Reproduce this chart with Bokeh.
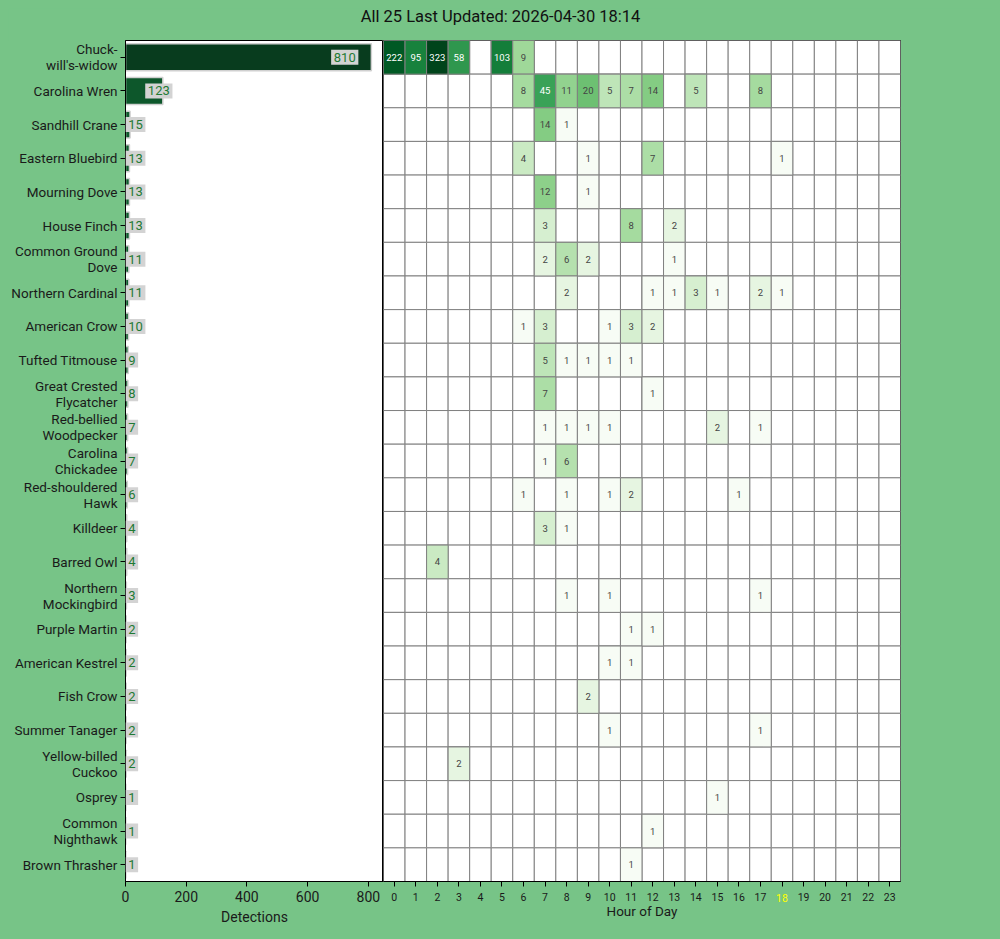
import numpy as np
from bokeh.plotting import figure
from bokeh.models import (ColumnDataSource, Range1d, FactorRange, LogColorMapper,
                          LinearColorMapper, FixedTicker, LabelSet, LinearAxis)
from bokeh.layouts import column, row
from bokeh.core.properties import value
from bokeh.transform import transform
from bokeh.embed import file_html
from bokeh.resources import INLINE

# ---------------- data ----------------
title_text = "All 25 Last Updated: 2026-04-30 18:14"

species = ["Chuck-will's-widow", "Carolina Wren", "Sandhill Crane", "Eastern Bluebird",
           "Mourning Dove", "House Finch", "Common Ground Dove", "Northern Cardinal",
           "American Crow", "Tufted Titmouse", "Great Crested Flycatcher",
           "Red-bellied Woodpecker", "Carolina Chickadee", "Red-shouldered Hawk",
           "Killdeer", "Barred Owl", "Northern Mockingbird", "Purple Martin",
           "American Kestrel", "Fish Crow", "Summer Tanager", "Yellow-billed Cuckoo",
           "Osprey", "Common Nighthawk", "Brown Thrasher"]

species_labels = ["Chuck-\nwill's-widow", "Carolina Wren", "Sandhill Crane", "Eastern Bluebird",
                  "Mourning Dove", "House Finch", "Common Ground\nDove", "Northern Cardinal",
                  "American Crow", "Tufted Titmouse", "Great Crested\nFlycatcher",
                  "Red-bellied\nWoodpecker", "Carolina\nChickadee", "Red-shouldered\nHawk",
                  "Killdeer", "Barred Owl", "Northern\nMockingbird", "Purple Martin",
                  "American Kestrel", "Fish Crow", "Summer Tanager", "Yellow-billed\nCuckoo",
                  "Osprey", "Common\nNighthawk", "Brown Thrasher"]

detections = [810, 123, 15, 13, 13, 13, 11, 11, 10, 9, 8, 7, 7, 6, 4, 4, 3, 2, 2, 2, 2, 2, 1, 1, 1]

hours = list(range(24))
current_hour = 18

#                 0    1    2   3  4    5  6   7   8   9 10 11  12 13 14 15 16 17 18 19 20 21 22 23
hourly_counts = [
    [222, 95, 323, 58, 0, 103, 9,  0,  0,  0, 0, 0,  0, 0, 0, 0, 0, 0, 0, 0, 0, 0, 0, 0],
    [0,    0,   0,  0, 0,   0, 8, 45, 11, 20, 5, 7, 14, 0, 5, 0, 0, 8, 0, 0, 0, 0, 0, 0],
    [0,    0,   0,  0, 0,   0, 0, 14,  1,  0, 0, 0,  0, 0, 0, 0, 0, 0, 0, 0, 0, 0, 0, 0],
    [0,    0,   0,  0, 0,   0, 4,  0,  0,  1, 0, 0,  7, 0, 0, 0, 0, 0, 1, 0, 0, 0, 0, 0],
    [0,    0,   0,  0, 0,   0, 0, 12,  0,  1, 0, 0,  0, 0, 0, 0, 0, 0, 0, 0, 0, 0, 0, 0],
    [0,    0,   0,  0, 0,   0, 0,  3,  0,  0, 0, 8,  0, 2, 0, 0, 0, 0, 0, 0, 0, 0, 0, 0],
    [0,    0,   0,  0, 0,   0, 0,  2,  6,  2, 0, 0,  0, 1, 0, 0, 0, 0, 0, 0, 0, 0, 0, 0],
    [0,    0,   0,  0, 0,   0, 0,  0,  2,  0, 0, 0,  1, 1, 3, 1, 0, 2, 1, 0, 0, 0, 0, 0],
    [0,    0,   0,  0, 0,   0, 1,  3,  0,  0, 1, 3,  2, 0, 0, 0, 0, 0, 0, 0, 0, 0, 0, 0],
    [0,    0,   0,  0, 0,   0, 0,  5,  1,  1, 1, 1,  0, 0, 0, 0, 0, 0, 0, 0, 0, 0, 0, 0],
    [0,    0,   0,  0, 0,   0, 0,  7,  0,  0, 0, 0,  1, 0, 0, 0, 0, 0, 0, 0, 0, 0, 0, 0],
    [0,    0,   0,  0, 0,   0, 0,  1,  1,  1, 1, 0,  0, 0, 0, 2, 0, 1, 0, 0, 0, 0, 0, 0],
    [0,    0,   0,  0, 0,   0, 0,  1,  6,  0, 0, 0,  0, 0, 0, 0, 0, 0, 0, 0, 0, 0, 0, 0],
    [0,    0,   0,  0, 0,   0, 1,  0,  1,  0, 1, 2,  0, 0, 0, 0, 1, 0, 0, 0, 0, 0, 0, 0],
    [0,    0,   0,  0, 0,   0, 0,  3,  1,  0, 0, 0,  0, 0, 0, 0, 0, 0, 0, 0, 0, 0, 0, 0],
    [0,    0,   4,  0, 0,   0, 0,  0,  0,  0, 0, 0,  0, 0, 0, 0, 0, 0, 0, 0, 0, 0, 0, 0],
    [0,    0,   0,  0, 0,   0, 0,  0,  1,  0, 1, 0,  0, 0, 0, 0, 0, 1, 0, 0, 0, 0, 0, 0],
    [0,    0,   0,  0, 0,   0, 0,  0,  0,  0, 0, 1,  1, 0, 0, 0, 0, 0, 0, 0, 0, 0, 0, 0],
    [0,    0,   0,  0, 0,   0, 0,  0,  0,  0, 1, 1,  0, 0, 0, 0, 0, 0, 0, 0, 0, 0, 0, 0],
    [0,    0,   0,  0, 0,   0, 0,  0,  0,  2, 0, 0,  0, 0, 0, 0, 0, 0, 0, 0, 0, 0, 0, 0],
    [0,    0,   0,  0, 0,   0, 0,  0,  0,  0, 1, 0,  0, 0, 0, 0, 0, 1, 0, 0, 0, 0, 0, 0],
    [0,    0,   0,  2, 0,   0, 0,  0,  0,  0, 0, 0,  0, 0, 0, 0, 0, 0, 0, 0, 0, 0, 0, 0],
    [0,    0,   0,  0, 0,   0, 0,  0,  0,  0, 0, 0,  0, 0, 0, 1, 0, 0, 0, 0, 0, 0, 0, 0],
    [0,    0,   0,  0, 0,   0, 0,  0,  0,  0, 0, 0,  1, 0, 0, 0, 0, 0, 0, 0, 0, 0, 0, 0],
    [0,    0,   0,  0, 0,   0, 0,  0,  0,  0, 0, 1,  0, 0, 0, 0, 0, 0, 0, 0, 0, 0, 0, 0],
]

# ---------------- styles ----------------
BG = "#77c487"
FONT = "Roboto"
greens9 = ['#f7fcf5', '#e5f5e0', '#c7e9c0', '#a1d99b', '#74c476',
           '#41ab5d', '#238b45', '#006d2c', '#00441b']


def interp_palette(stops, n):
    rgb = np.array([[int(c[i:i + 2], 16) for i in (1, 3, 5)] for c in stops], dtype=float)
    pos = np.linspace(0, 1, len(stops))
    t = np.linspace(0, 1, n)
    out = []
    for tt in t:
        r, g, b = (np.interp(tt, pos, rgb[:, k]) for k in range(3))
        out.append("#%02x%02x%02x" % (int(round(r)), int(round(g)), int(round(b))))
    return out


heat_palette = interp_palette(greens9, 256)
bar_palette = interp_palette(["#0e5c2d", "#083c1e"], 64)

n_rows = len(species)

# ---------------- title ----------------
pt = figure(width=984, height=32, x_range=Range1d(0, 1), y_range=Range1d(0, 1),
            output_backend="svg", toolbar_location=None, min_border=0,
            x_axis_location=None, y_axis_location=None)
pt.grid.visible = False
pt.outline_line_color = None
pt.background_fill_color = BG
pt.border_fill_color = BG
pt.text(x=[0.5], y=[0.76], text=[title_text], text_align="center", text_baseline="middle",
        text_font=value(FONT), text_font_size="16.5px", text_color="#111111")

# ---------------- left: bar chart ----------------
bar_src = ColumnDataSource(dict(label=species_labels, count=detections))
bar_mapper = LinearColorMapper(palette=bar_palette, low=0, high=max(detections))

p1 = figure(width=375, height=891, y_range=FactorRange(factors=species_labels[::-1]),
            x_range=Range1d(0, 850), output_backend="svg", toolbar_location=None,
            min_border_left=117, min_border_right=0, min_border_top=0, min_border_bottom=50)
p1.hbar(y='label', left=0, right='count', height=0.8, source=bar_src,
        fill_color=transform('count', bar_mapper), line_color="#d0d0d0", line_width=1.5)
p1.grid.visible = False
p1.background_fill_color = "white"
p1.border_fill_color = BG
p1.outline_line_color = "black"
p1.xaxis.axis_label = "Detections"
for ax in (p1.xaxis[0], p1.yaxis[0]):
    ax.axis_line_color = "black"
    ax.major_tick_line_color = "black"
    ax.major_tick_out = 5
    ax.major_tick_in = 0
    ax.minor_tick_line_color = None
    ax.major_label_text_font = FONT
    ax.major_label_text_font_size = "14px"
    ax.major_label_text_color = "#1a1a1a"
    ax.axis_label_text_font = FONT
    ax.axis_label_text_font_size = "14px"
    ax.axis_label_text_font_style = "normal"
    ax.axis_label_text_color = "#1a1a1a"
p1.yaxis.major_label_text_font_size = "13.5px"
try:
    p1.yaxis[0].major_label_text_line_height = 1.0
except Exception:
    pass
p1.yaxis.major_label_standoff = 3
p1.xaxis.major_label_standoff = 4
p1.xaxis.axis_label_standoff = 4
p1.xaxis.ticker = FixedTicker(ticks=[0, 200, 400, 600, 800])

PAD = "\u2009"  # thin space, not collapsed in SVG


def label_src(idx, at_zero=False):
    return ColumnDataSource(dict(
        label=[species_labels[i] for i in idx],
        x=[0 if at_zero else detections[i] for i in idx],
        text=[PAD + str(detections[i]) + PAD for i in idx]))


big = [i for i, v in enumerate(detections) if v > 400]
mid = [i for i, v in enumerate(detections) if 100 <= v <= 400]
small = [i for i, v in enumerate(detections) if v < 100]
label_style = dict(text_baseline="middle", text_font=value(FONT), text_font_size="13px",
                   text_color="#1f7a33", background_fill_color="#d3d3d3")
p1.add_layout(LabelSet(x='x', y='label', text='text', source=label_src(big), x_offset=-13,
                       text_align="right", **label_style))
p1.add_layout(LabelSet(x='x', y='label', text='text', source=label_src(mid), x_offset=-4,
                       text_align="center", **label_style))
p1.add_layout(LabelSet(x='x', y='label', text='text', source=label_src(small, True),
                       x_offset=0, text_align="left", **label_style))

# ---------------- right: heatmap ----------------
gx, gy, gv = [], [], []
for r, counts in enumerate(hourly_counts):
    for h, v in zip(hours, counts):
        gx.append(h)
        gy.append(r + 0.5)
        gv.append(v)
grid_src = ColumnDataSource(dict(x=gx, y=gy, v=gv))
nz = [i for i, v in enumerate(gv) if v > 0]
cell_src = ColumnDataSource(dict(x=[gx[i] for i in nz], y=[gy[i] for i in nz],
                                 v=[gv[i] for i in nz],
                                 text=[str(gv[i]) for i in nz],
                                 tc=["white" if gv[i] >= 40 else "#444444" for i in nz]))
heat_mapper = LogColorMapper(palette=heat_palette, low=1, high=max(gv))

p2 = figure(width=609, height=891, x_range=Range1d(-0.5, 23.5), y_range=Range1d(n_rows, 0),
            output_backend="svg", toolbar_location=None, y_axis_location=None,
            min_border_left=0, min_border_right=92, min_border_top=0, min_border_bottom=50)
p2.grid.visible = False
p2.background_fill_color = "white"
p2.border_fill_color = BG
p2.outline_line_color = "black"
p2.rect(x='x', y='y', width=1, height=1, source=grid_src, fill_color="white",
        line_color="#808080", line_width=1)
p2.rect(x='x', y='y', width=1, height=1, source=cell_src,
        fill_color=transform('v', heat_mapper), line_color="#808080", line_width=1)
p2.text(x='x', y='y', text='text', source=cell_src, text_align="center",
        text_baseline="middle", text_font=value(FONT), text_font_size="9.5px",
        text_color='tc')
ax = p2.xaxis[0]
ax.ticker = FixedTicker(ticks=hours)
ax.major_label_overrides = {current_hour: " "}
ax.axis_line_color = "black"
ax.major_tick_line_color = "black"
ax.major_tick_out = 5
ax.major_tick_in = 0
ax.minor_tick_line_color = None
ax.major_label_text_font = FONT
ax.major_label_text_font_size = "10.5px"
ax.major_label_text_color = "#1a1a1a"
ax.major_label_standoff = 4

# second axis only for the highlighted current hour, overlapping the first one's labels
ax2 = LinearAxis(ticker=FixedTicker(ticks=[current_hour]), axis_line_color=None,
                 major_tick_line_color=None, minor_tick_line_color=None,
                 major_tick_out=0, major_tick_in=0, major_label_standoff=-13,
                 major_label_text_font=FONT, major_label_text_font_size="10.5px",
                 major_label_text_color="yellow",
                 axis_label="Hour of Day", axis_label_text_font=FONT,
                 axis_label_text_font_size="13.5px", axis_label_text_font_style="normal",
                 axis_label_text_color="#1a1a1a", axis_label_standoff=-2)
p2.add_layout(ax2, "below")

layout = column(pt, row(p1, p2))

html = file_html(layout, INLINE)
html = html.replace("</head>",
                    "<style>html{background:%s;}body{background:%s;margin:8px;}</style></head>"
                    % (BG, BG), 1)
open("out.html", "w").write(html)
